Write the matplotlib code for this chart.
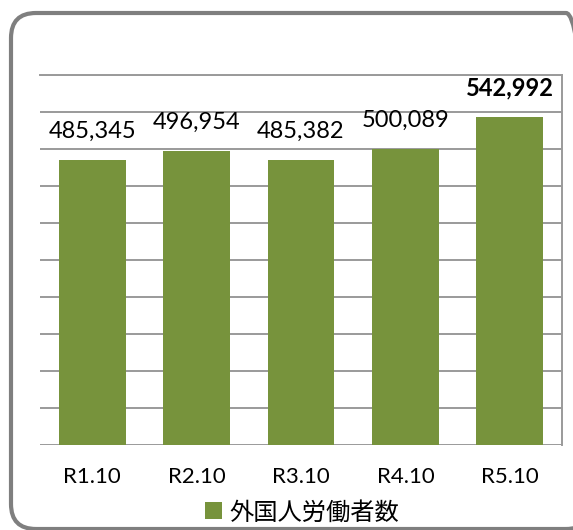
import matplotlib.pyplot as plt
from matplotlib.patches import FancyBboxPatch

# Data
categories = ["R1.10", "R2.10", "R3.10", "R4.10", "R5.10"]
workers = [485345, 496954, 485382, 500089, 542992]
series_name = "外国人労働者数"

plt.rcParams["font.family"] = ["Lato", "Noto Sans CJK JP", "DejaVu Sans"]

fig = plt.figure(figsize=(5.73, 5.30), dpi=100)
ax = fig.add_axes([0.0698, 0.160, 0.911, 0.6985])

bar_color = "#77933C"
ax.bar(categories, workers, width=0.64, color=bar_color, zorder=3, label=series_name)

# value labels, last one bold
for i, v in enumerate(workers):
    ax.annotate(f"{v:,}", (i, v), xytext=(0, 16), textcoords="offset points",
                ha="center", va="baseline", fontsize=17,
                fontweight="bold" if i == len(workers) - 1 else "normal")

ax.set_ylim(100000, 600000)
ax.set_xlim(-0.5, len(categories) - 0.5)
ax.set_yticks(range(100000, 600001, 50000))
ax.yaxis.grid(True, color="#9a9a9a", linewidth=1.4, zorder=0)
ax.set_yticklabels([])
ax.tick_params(axis="y", length=0)
ax.tick_params(axis="x", length=0, pad=16, labelsize=16)

for s in ["left", "bottom"]:
    ax.spines[s].set_visible(False)
for s in ["top", "right"]:
    ax.spines[s].set_color("#9a9a9a")
    ax.spines[s].set_linewidth(1.4)

fig.legend(loc="center", bbox_to_anchor=(0.527, 1 - 512 / 530), frameon=False,
           fontsize=17.5, handlelength=0.7, handleheight=0.7, handletextpad=0.3)

# rounded outer frame, right side runs past the image edge
frame = FancyBboxPatch((0.11, 0.01), 5.80, 5.16,
                       boxstyle="round,pad=0,rounding_size=0.25",
                       transform=fig.dpi_scale_trans, fill=False,
                       edgecolor="#7f7f7f", linewidth=3, clip_on=False)
fig.add_artist(frame)

fig.savefig("out.png", dpi=100)
